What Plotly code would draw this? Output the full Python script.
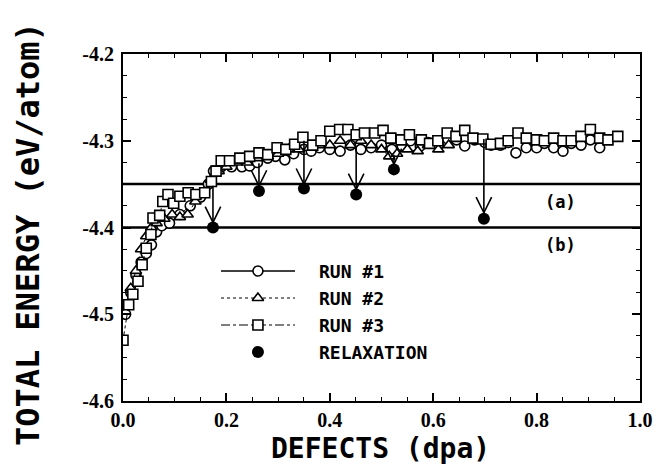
import plotly.graph_objects as go

# ---------------- data ----------------
run1_x = [0.005, 0.015, 0.025, 0.035, 0.045, 0.055, 0.065, 0.075, 0.090, 0.110,
          0.130, 0.150, 0.165, 0.175, 0.190, 0.210, 0.230, 0.245, 0.260, 0.280,
          0.295, 0.313, 0.330, 0.350, 0.364, 0.380, 0.400, 0.420, 0.440, 0.460,
          0.480, 0.500, 0.520, 0.540, 0.556, 0.575, 0.590, 0.610, 0.628, 0.645,
          0.661, 0.680, 0.700, 0.712, 0.730, 0.745, 0.760, 0.780, 0.800, 0.815,
          0.833, 0.851, 0.867, 0.886, 0.904, 0.922]
run1_y = [-4.500, -4.475, -4.455, -4.440, -4.430, -4.420, -4.405, -4.398, -4.395, -4.385,
          -4.375, -4.365, -4.350, -4.335, -4.330, -4.330, -4.330, -4.329, -4.325, -4.320,
          -4.318, -4.322, -4.315, -4.310, -4.312, -4.308, -4.310, -4.312, -4.305, -4.310,
          -4.308, -4.305, -4.310, -4.306, -4.300, -4.306, -4.302, -4.305, -4.298, -4.299,
          -4.306, -4.299, -4.302, -4.305, -4.305, -4.302, -4.314, -4.308, -4.308, -4.303,
          -4.308, -4.312, -4.303, -4.305, -4.299, -4.308]

run2_x = [0.005, 0.015, 0.025, 0.035, 0.045, 0.055, 0.065, 0.080, 0.095, 0.110,
          0.125, 0.140, 0.155, 0.170, 0.185, 0.200, 0.220, 0.240, 0.260, 0.280,
          0.300, 0.320, 0.340, 0.360, 0.380, 0.400, 0.420, 0.440, 0.460, 0.480,
          0.500, 0.515, 0.530, 0.550, 0.570, 0.590, 0.610, 0.630]
run2_y = [-4.490, -4.470, -4.450, -4.425, -4.410, -4.400, -4.395, -4.390, -4.385, -4.388,
          -4.385, -4.370, -4.360, -4.345, -4.335, -4.330, -4.325, -4.325, -4.320, -4.318,
          -4.315, -4.310, -4.310, -4.308, -4.305, -4.305, -4.300, -4.305, -4.300, -4.305,
          -4.310, -4.318, -4.315, -4.310, -4.312, -4.305, -4.310, -4.305]

run3_x = [0.000, 0.011, 0.019, 0.029, 0.037, 0.045, 0.054, 0.058, 0.071, 0.077,
          0.087, 0.098, 0.110, 0.126, 0.141, 0.158, 0.171, 0.180, 0.190, 0.206,
          0.226, 0.245, 0.263, 0.280, 0.298, 0.315, 0.332, 0.348, 0.367, 0.383,
          0.400, 0.419, 0.435, 0.451, 0.467, 0.487, 0.503, 0.518, 0.538, 0.554,
          0.577, 0.593, 0.609, 0.627, 0.644, 0.661, 0.677, 0.696, 0.712, 0.730,
          0.745, 0.764, 0.780, 0.800, 0.815, 0.833, 0.851, 0.867, 0.886, 0.904,
          0.922, 0.938, 0.957]
run3_y = [-4.530, -4.489, -4.477, -4.462, -4.443, -4.424, -4.408, -4.389, -4.386, -4.370,
          -4.362, -4.372, -4.364, -4.360, -4.362, -4.360, -4.347, -4.335, -4.323, -4.323,
          -4.320, -4.318, -4.314, -4.316, -4.308, -4.310, -4.304, -4.296, -4.305, -4.300,
          -4.289, -4.287, -4.287, -4.293, -4.291, -4.291, -4.288, -4.297, -4.299, -4.293,
          -4.299, -4.303, -4.300, -4.291, -4.295, -4.288, -4.297, -4.298, -4.304, -4.303,
          -4.300, -4.291, -4.297, -4.299, -4.300, -4.297, -4.300, -4.300, -4.295, -4.287,
          -4.297, -4.299, -4.295]

relax_x = [0.174, 0.263, 0.350, 0.451, 0.524, 0.698]
relax_y = [-4.400, -4.358, -4.355, -4.362, -4.333, -4.390]
arrow_start_y = [-4.352, -4.326, -4.300, -4.308, -4.316, -4.298]
arrow_end_y = [-4.394, -4.352, -4.350, -4.356, -4.327, -4.383]

ref_levels = [-4.35, -4.40]
ref_labels = ["(a)", "(b)"]

x_ticks = [0.0, 0.2, 0.4, 0.6, 0.8, 1.0]
x_ticktext = ["0.0", "0.2", "0.4", "0.6", "0.8", "1.0"]
y_ticks = [-4.6, -4.5, -4.4, -4.3, -4.2]
y_ticktext = ["-4.6", "-4.5", "-4.4", "-4.3", "-4.2"]

series_names = ["RUN #1", "RUN #2", "RUN #3", "RELAXATION"]
x_title = "DEFECTS (dpa)"
y_title = "TOTAL ENERGY (eV/atom)"

# ---------------- style ----------------
MONO = "DejaVu Sans Mono"
SERIF = "Liberation Serif"
W, H = 663, 464
L, R, T, B = 115, 31, 46, 71

fig = go.Figure()

styles = [
    dict(dash="solid", symbol="circle"),
    dict(dash="dot", symbol="triangle-up"),
    dict(dash="dashdot", symbol="square"),
]
runs = [(run1_x, run1_y), (run2_x, run2_y), (run3_x, run3_y)]
for (xs, ys), st in zip(runs, styles):
    fig.add_trace(go.Scatter(
        x=xs, y=ys, mode="lines+markers",
        line=dict(color="black", width=1, dash=st["dash"]),
        marker=dict(symbol=st["symbol"], size=10, color="white",
                    line=dict(color="black", width=1.6)),
        showlegend=False, hoverinfo="skip"))

# arrows (shaft + open V head), computed from the arrow arrays
head_dx, head_dy = 0.015, 0.018
ax_lines, ay_lines = [], []
for xv, y0, y1 in zip(relax_x, arrow_start_y, arrow_end_y):
    ax_lines += [xv, xv, None, xv - head_dx, xv, xv + head_dx, None]
    ay_lines += [y0, y1, None, y1 + head_dy, y1, y1 + head_dy, None]
fig.add_trace(go.Scatter(x=ax_lines, y=ay_lines, mode="lines",
                         line=dict(color="black", width=1.6),
                         showlegend=False, hoverinfo="skip"))

fig.add_trace(go.Scatter(
    x=relax_x, y=relax_y, mode="markers",
    marker=dict(symbol="circle", size=12, color="black"),
    showlegend=False, hoverinfo="skip"))

# reference lines (a), (b)
for lev, lab in zip(ref_levels, ref_labels):
    fig.add_shape(type="line", xref="paper", x0=0, x1=1, yref="y", y0=lev, y1=lev,
                  line=dict(color="black", width=2.5), layer="below")
    fig.add_annotation(x=0.847, y=lev - 0.0205, xref="x", yref="y", text=lab,
                       showarrow=False, font=dict(family=MONO, size=17, color="black", weight="bold"))

# manual legend drawn on an overlay axis in fractional coordinates
leg_rows = [0.3746, 0.2968, 0.2190, 0.1410]
leg_x0, leg_xm, leg_x1, leg_tx = 0.1896, 0.261, 0.3327, 0.375
for i, st in enumerate(styles):
    fig.add_trace(go.Scatter(
        x=[leg_x0, leg_xm, leg_x1], y=[leg_rows[i]] * 3, xaxis="x2", yaxis="y2",
        mode="lines", line=dict(color="black", width=1.5 if i == 0 else 1.2, dash=st["dash"]),
        showlegend=False, hoverinfo="skip"))
    fig.add_trace(go.Scatter(
        x=[leg_xm], y=[leg_rows[i]], xaxis="x2", yaxis="y2", mode="markers",
        marker=dict(symbol=st["symbol"], size=10, color="white",
                    line=dict(color="black", width=1.6)),
        showlegend=False, hoverinfo="skip"))
fig.add_trace(go.Scatter(
    x=[leg_xm], y=[leg_rows[3]], xaxis="x2", yaxis="y2", mode="markers",
    marker=dict(symbol="circle", size=12, color="black"),
    showlegend=False, hoverinfo="skip"))
for i, name in enumerate(series_names):
    fig.add_annotation(x=leg_tx, y=leg_rows[i], xref="paper", yref="paper", text=name,
                       xanchor="left", yanchor="middle", showarrow=False,
                       font=dict(family=MONO, size=18, color="black", weight="bold"))

# axis titles
fig.add_annotation(x=(372 - L) / (W - L - R), y=-(440 - (H - B)) / (H - T - B),
                   xref="paper", yref="paper", text=x_title, showarrow=False,
                   xanchor="center", yanchor="middle",
                   font=dict(family=MONO, size=28, color="black", weight="bold"))
fig.add_annotation(x=-(L - 20) / (W - L - R), y=((H - B) - 226) / (H - T - B),
                   xref="paper", yref="paper", text=y_title, showarrow=False, textangle=-90,
                   xanchor="center", yanchor="middle",
                   font=dict(family=MONO, size=32, color="black", weight="bold"))

axis_common = dict(showline=True, linecolor="black", linewidth=2, mirror="ticks",
                   ticks="inside", ticklen=8, tickwidth=1.5, tickcolor="black",
                   showgrid=False, zeroline=False,
                   tickfont=dict(family=SERIF, size=20, color="black", weight="bold"))
fig.update_layout(
    width=W, height=H, margin=dict(l=L, r=R, t=T, b=B),
    paper_bgcolor="white", plot_bgcolor="white", showlegend=False,
    xaxis=dict(range=[0, 1], tickmode="array", tickvals=x_ticks, ticktext=x_ticktext,
               minor=dict(tickmode="linear", tick0=0, dtick=0.05, ticks="inside",
                          ticklen=4, tickwidth=1.2, tickcolor="black"),
               **axis_common),
    yaxis=dict(range=[-4.6, -4.2], tickmode="array", tickvals=y_ticks, ticktext=y_ticktext,
               ticklabelstandoff=3,
               minor=dict(tickmode="linear", tick0=-4.6, dtick=0.025, ticks="inside",
                          ticklen=4, tickwidth=1.2, tickcolor="black"),
               **axis_common),
    xaxis2=dict(overlaying="x", range=[0, 1], visible=False),
    yaxis2=dict(overlaying="y", range=[0, 1], visible=False),
)

fig.write_html("out.html")
